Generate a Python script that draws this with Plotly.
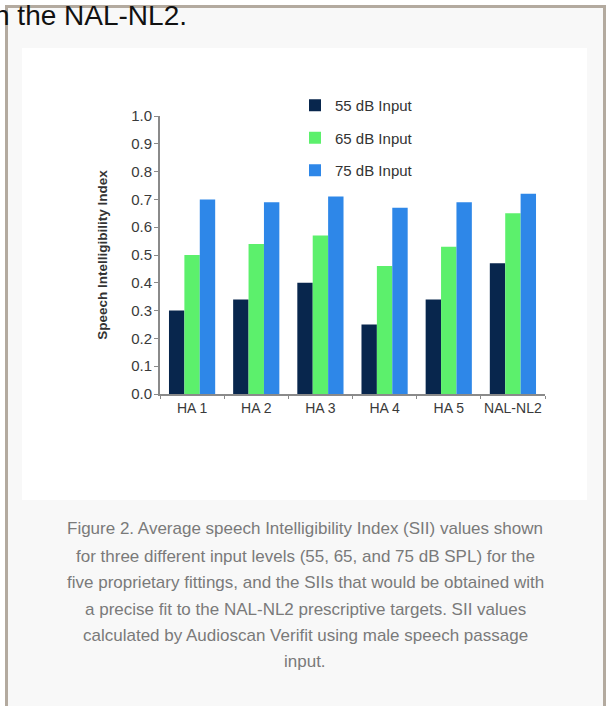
import plotly.graph_objects as go

W, H = 609, 706

categories = ["HA 1", "HA 2", "HA 3", "HA 4", "HA 5", "NAL-NL2"]
sii_55 = [0.30, 0.34, 0.40, 0.25, 0.34, 0.47]
sii_65 = [0.50, 0.54, 0.57, 0.46, 0.53, 0.65]
sii_75 = [0.70, 0.69, 0.71, 0.67, 0.69, 0.72]
series_names = ["55 dB Input", "65 dB Input", "75 dB Input"]
series_colors = ["#08264d", "#5cf06c", "#2e87e8"]
y_ticks = [0.0, 0.1, 0.2, 0.3, 0.4, 0.5, 0.6, 0.7, 0.8, 0.9, 1.0]
y_tick_labels = ["0.0", "0.1", "0.2", "0.3", "0.4", "0.5", "0.6", "0.7", "0.8", "0.9", "1.0"]

caption_lines = [
    "Figure 2. Average speech Intelligibility Index (SII) values shown",
    "for three different input levels (55, 65, and 75 dB SPL) for the",
    "five proprietary fittings, and the SIIs that would be obtained with",
    "a precise fit to the NAL-NL2 prescriptive targets. SII values",
    "calculated by Audioscan Verifit using male speech passage",
    "input.",
]
top_text = "n the NAL-NL2."


def px_x(v):
    return v / W


def px_y(v):
    return 1 - v / H


fig = go.Figure()
for name, vals, col in zip(series_names, [sii_55, sii_65, sii_75], series_colors):
    fig.add_trace(go.Bar(x=categories, y=vals, name=name, marker_color=col,
                         marker_line_width=0, legendgroup=name))

AX = "#8a8a8a"
fig.update_layout(
    template="none",
    width=W, height=H,
    margin=dict(l=0, r=0, t=0, b=0, autoexpand=False),
    paper_bgcolor="white",
    plot_bgcolor="white",
    barmode="group",
    bargap=0.28,
    bargroupgap=0.0,
    font=dict(family="Liberation Sans, Arial, sans-serif", color="#333333"),
    showlegend=True,
    legend=dict(
        x=px_x(295), y=px_y(89), xanchor="left", yanchor="top",
        bgcolor="rgba(0,0,0,0)", font=dict(size=15, color="#333333"),
        tracegroupgap=10, itemclick=False, borderwidth=0,
    ),
    xaxis=dict(
        domain=[px_x(160), px_x(545)],
        automargin=False,
        tickangle=0,
        showline=True, linecolor=AX, linewidth=2,
        ticks="outside", tickson="boundaries", ticklen=3, tickcolor=AX, tickwidth=1,
        tickfont=dict(size=14, color="#3a3a3a"),
        showgrid=False, zeroline=False,
    ),
    yaxis=dict(
        domain=[px_y(394), px_y(116)],
        automargin=False,
        range=[0, 1.0],
        tickvals=y_ticks, ticktext=y_tick_labels,
        showline=True, linecolor=AX, linewidth=2,
        ticks="outside", ticklen=4, tickcolor=AX, tickwidth=1,
        ticklabelstandoff=-1,
        tickfont=dict(size=15, color="#3a3a3a"),
        showgrid=False, zeroline=False,
        title=dict(text="<b>Speech Intelligibility Index</b>",
                   font=dict(size=13.5, color="#333333"), standoff=20),
    ),
)

# page frame and figure panel
fig.add_shape(type="rect", xref="paper", yref="paper",
              x0=px_x(6.5), x1=px_x(604.5), y0=px_y(740), y1=px_y(6.5),
              line=dict(color="#b3aa9f", width=3), fillcolor="#f8f8f8", layer="below")
fig.add_shape(type="rect", xref="paper", yref="paper",
              x0=px_x(22), x1=px_x(587), y0=px_y(500), y1=px_y(48),
              line=dict(width=0), fillcolor="white", layer="below")

fig.add_annotation(text=top_text, xref="paper", yref="paper",
                   x=px_x(-8), y=px_y(16), xanchor="left", yanchor="middle",
                   showarrow=False, font=dict(size=28, color="#111111"))

caption_y = [528, 556, 582, 609, 635, 661]
for line, yy in zip(caption_lines, caption_y):
    fig.add_annotation(text=line, xref="paper", yref="paper",
                       x=px_x(305), y=px_y(yy), xanchor="center", yanchor="middle",
                       showarrow=False, font=dict(size=17, color="#7a7a7a"))

fig.write_html("out.html",
               config={"displayModeBar": False},
               post_script="document.body.style.margin='0px';document.body.style.overflow='hidden';")
